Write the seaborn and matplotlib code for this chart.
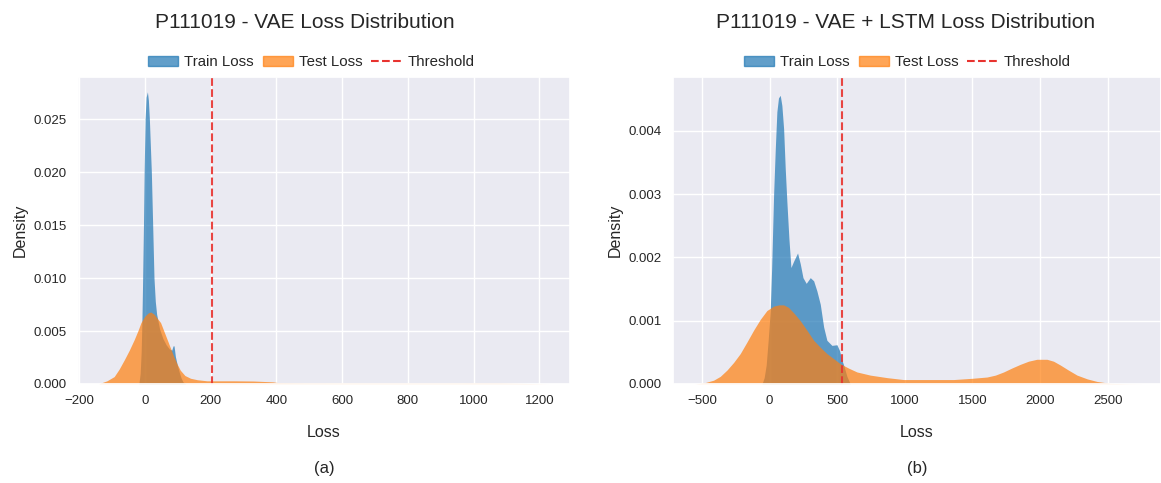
import numpy as np
import matplotlib
matplotlib.use("Agg")
import matplotlib.pyplot as plt
from matplotlib.patches import Patch
from matplotlib.lines import Line2D
import seaborn as sns

# --- data (loss value, density) ---
# (a) VAE
vae_train_x = [-18, -14, -11, -9, -7, -4, -2, 1, 4, 8, 11, 14, 17, 20, 24, 28, 32, 36, 45, 55, 65, 75,
               82, 86, 89, 93, 98, 104, 110, 116, 124]
vae_train_y = [0, 0.001, 0.003, 0.0055, 0.009, 0.015, 0.020, 0.025, 0.0271, 0.0276, 0.0268, 0.025, 0.0225,
               0.020, 0.015, 0.010, 0.0078, 0.0066, 0.0052, 0.0043, 0.0037, 0.0033, 0.0032, 0.0036, 0.0036,
               0.0026, 0.0019, 0.0012, 0.0006, 0.0002, 0]
vae_test_x = [-140, -133, -115, -93, -78, -62, -47, -32, -20, -11.6, 0, 10, 18, 28, 38, 48, 58, 68, 78, 88,
              98, 108, 122, 139, 160, 189, 230, 270, 330, 390, 405, 500, 700, 900, 1000, 1080, 1150, 1200, 1227]
vae_test_y = [0, 0.0001, 0.0003, 0.0007, 0.0014, 0.0023, 0.0032, 0.0042, 0.0051, 0.0058, 0.0064, 0.0067,
              0.0068, 0.0066, 0.0062, 0.0058, 0.0050, 0.0042, 0.0034, 0.0026, 0.0019, 0.0013, 0.0008,
              0.00054, 0.0004, 0.0003, 0.0003, 0.0003, 0.00028, 0.0002, 0.00013, 0.0001, 0.00009, 0.00009,
              0.0001, 0.0001, 0.00006, 0.00002, 0]
vae_threshold = 204

# (b) VAE + LSTM
lstm_train_x = [-56, -40, -25, -10, 5, 15, 30, 42, 54, 66, 79, 91, 104, 116, 128, 143, 158, 178, 207, 227,
                247, 271, 301, 326, 350, 375, 400, 424, 461, 498, 517, 535, 552, 572, 597]
lstm_train_y = [0, 0.0001, 0.0003, 0.0007, 0.00116, 0.0018, 0.0030, 0.0037, 0.0043, 0.00452, 0.00456,
                0.0044, 0.00403, 0.0034, 0.00288, 0.0023, 0.00184, 0.00194, 0.00207, 0.0019, 0.00168,
                0.00159, 0.00168, 0.00163, 0.00147, 0.00126, 0.0009, 0.00069, 0.00061, 0.00062, 0.00053,
                0.00038, 0.00027, 0.00012, 0]
lstm_test_x = [-550, -480, -414, -365, -315, -266, -217, -168, -118, -69, -20, 30, 70, 104, 140, 180, 227,
               276, 326, 375, 424, 474, 523, 585, 646, 745, 870, 991, 1200, 1361, 1500, 1608, 1670, 1731,
               1790, 1854, 1915, 1977, 2052, 2100, 2150, 2210, 2274, 2350, 2422, 2520, 2640, 2755]
lstm_test_y = [0, 0.00002, 0.00006, 0.00012, 0.00022, 0.00034, 0.00048, 0.00066, 0.00085, 0.00102, 0.00116,
               0.00123, 0.00125, 0.00125, 0.00121, 0.00112, 0.001, 0.00085, 0.00069, 0.00058, 0.00048,
               0.0004, 0.00032, 0.00025, 0.00019, 0.00014, 0.0001, 0.00007, 0.00007, 0.00007, 0.00009,
               0.00011, 0.00014, 0.00019, 0.00025, 0.00031, 0.00036, 0.00039, 0.00039, 0.00036, 0.0003,
               0.00022, 0.00014, 0.00008, 0.00004, 0.00001, 0.000003, 0]
lstm_threshold = 532

sns.set_theme(style="darkgrid")
plt.rcParams["font.family"] = ["Liberation Sans", "DejaVu Sans"]

blue, orange = sns.color_palette("tab10")[:2]
red = "#e8332f"

fig = plt.figure(figsize=(11.61, 4.83), dpi=100)
ax1 = fig.add_axes([0.0672, 0.205, 0.4238, 0.6356])
ax2 = fig.add_axes([0.5797, 0.205, 0.4203, 0.6356])

panels = [
    (ax1, vae_train_x, vae_train_y, vae_test_x, vae_test_y, vae_threshold,
     "P111019 - VAE Loss Distribution", (-203, 1293), 0.029, [0, 0.005, 0.01, 0.015, 0.02, 0.025],
     "(a)", 0.461, 0.474),
    (ax2, lstm_train_x, lstm_train_y, lstm_test_x, lstm_test_y, lstm_threshold,
     "P111019 - VAE + LSTM Loss Distribution", (-714, 2895), 0.00485, [0, 0.001, 0.002, 0.003, 0.004],
     "(b)", 0.4775, 0.4795),
]

for ax, trx, try_, tex, tey, thr, title, xlim, ymax, yticks, cap, tx, lx in panels:
    ax.fill_between(trx, 0, try_, color=blue, alpha=0.7, linewidth=0)
    ax.fill_between(tex, 0, tey, color=orange, alpha=0.7, linewidth=0)
    ax.axvline(thr, color=red, linestyle="--", linewidth=1.5, alpha=0.9)
    ax.set_xlim(*xlim)
    ax.set_ylim(0, ymax)
    ax.set_yticks(yticks)
    ax.set_yticklabels([f"{t:.3f}" for t in yticks])
    ax.tick_params(labelsize=9.5, pad=2)
    ax.set_xlabel("Loss", fontsize=11.5, labelpad=13)
    ax.set_ylabel("Density", fontsize=11.5)
    ax.set_title(title, fontsize=15, pad=35, x=tx)
    handles = [Patch(color=blue, alpha=0.7, label="Train Loss"),
               Patch(color=orange, alpha=0.7, label="Test Loss"),
               Line2D([], [], color=red, linestyle="--", linewidth=1.5, label="Threshold")]
    ax.legend(handles=handles, loc="lower center", bbox_to_anchor=(lx, 1.005), ncol=3, frameon=False,
              fontsize=10.8, handlelength=2, handletextpad=0.4, columnspacing=0.6, borderaxespad=0)
    bb = ax.get_position()
    fig.text((bb.x0 + bb.x1) / 2, 1 - 468 / 483, cap, ha="center", va="center", fontsize=12)

fig.savefig("out.png", dpi=100)
